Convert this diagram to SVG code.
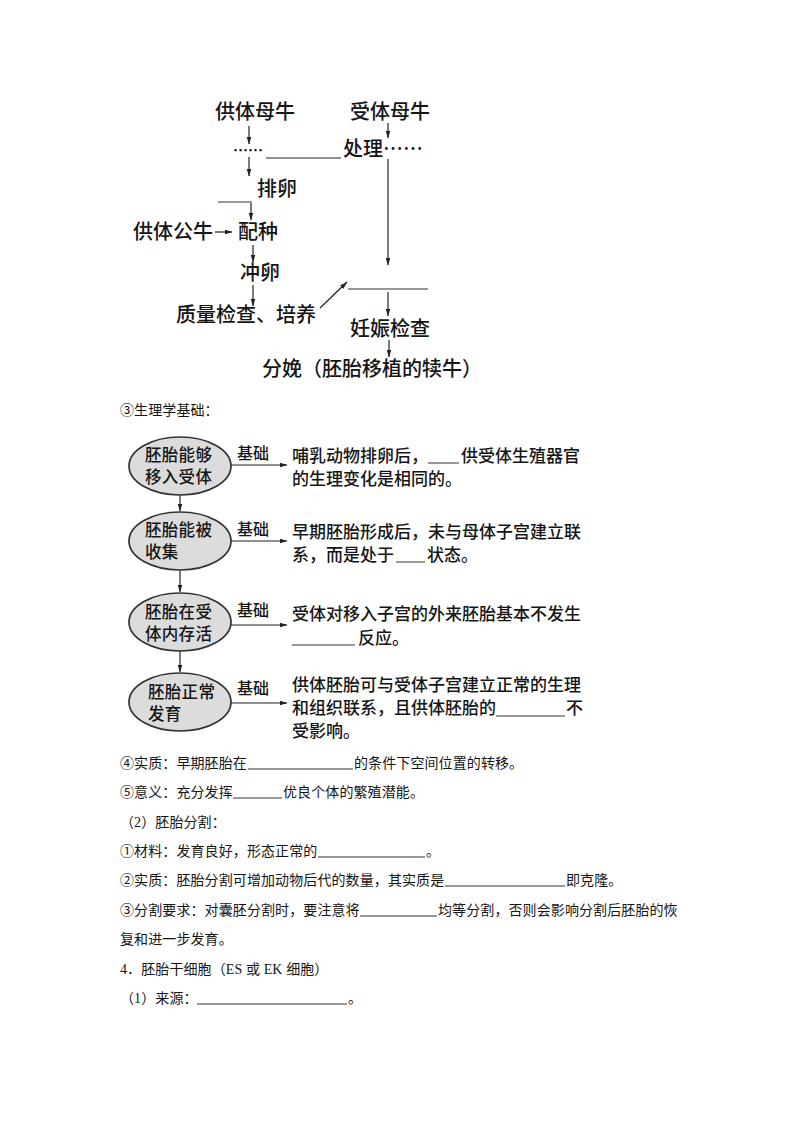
<svg xmlns="http://www.w3.org/2000/svg" width="800" height="1132" viewBox="0 0 800 1132">
<defs>
<style>
text { font-family: "Noto Sans CJK SC", "Noto Sans", sans-serif; fill: #151515; }
.t20 { font-size: 20px; font-weight: 500; }
.n17 { font-size: 17px; font-weight: 500; }
.e16 { font-size: 16.5px; font-weight: 500; letter-spacing: 0.3px; }
.k16 { font-size: 16px; font-weight: 500; }
.b14 { font-size: 14px; letter-spacing: 0.1px; }
.lat { font-family: "Liberation Serif", serif; }
.ln { stroke: #222; stroke-width: 1.2; fill: none; }
.arr { marker-end: url(#ah); }
.blank { stroke: #333; stroke-width: 1; }
.node { fill: #dcdcdc; stroke: #333; stroke-width: 1.7; }
</style>
<marker id="ah" markerWidth="8" markerHeight="6" refX="7.5" refY="3" orient="auto" markerUnits="userSpaceOnUse">
<path d="M0,0.6 L8,3 L0,5.4 z" fill="#222"/>
</marker>
</defs>
<rect width="800" height="1132" fill="#fff"/>

<!-- Top flowchart -->
<g id="connectors-top">
<line class="ln arr" x1="249" y1="126" x2="249" y2="144"/>
<line class="ln arr" x1="249" y1="157" x2="249" y2="176"/>
<line class="ln" x1="266" y1="158" x2="341" y2="158"/>
<line class="ln arr" x1="388" y1="123" x2="388" y2="138"/>
<line class="ln arr" x1="388" y1="159" x2="388" y2="265"/>
<line class="blank" x1="218" y1="202" x2="252" y2="202"/>
<line class="ln arr" x1="251" y1="203" x2="251" y2="220"/>
<line class="ln arr" x1="215" y1="232" x2="232" y2="232"/>
<line class="ln arr" x1="253" y1="245" x2="253" y2="262"/>
<line class="ln arr" x1="253" y1="285" x2="253" y2="306"/>
<line class="ln arr" x1="320" y1="308" x2="347" y2="282"/>
<line class="blank" x1="348" y1="289" x2="428" y2="289"/>
<line class="ln arr" x1="388" y1="292" x2="388" y2="316"/>
<line class="ln arr" x1="389" y1="340" x2="389" y2="357"/>
</g>
<g id="n-donor-cow"><text class="t20" x="215" y="118.5">供体母牛</text></g>
<g id="n-recipient-cow"><text class="t20" x="350" y="118.5">受体母牛</text></g>
<g id="n-donor-dots"><text x="248" y="156" font-size="15" font-weight="700" text-anchor="middle">……</text></g>
<g id="n-treat"><text class="t20" x="343" y="155.5">处理……</text></g>
<g id="n-ovulate"><text class="t20" x="257" y="195.5">排卵</text></g>
<g id="n-bull"><text class="t20" x="133" y="238.5">供体公牛</text></g>
<g id="n-mating"><text class="t20" x="238" y="238.5">配种</text></g>
<g id="n-flush"><text class="t20" x="240" y="279.5">冲卵</text></g>
<g id="n-check"><text class="t20" x="176" y="321.5">质量检查、培养</text></g>
<g id="n-preg"><text class="t20" x="350" y="335.5">妊娠检查</text></g>
<g id="n-birth"><text class="t20" x="262" y="375.5">分娩（胚胎移植的犊牛）</text></g>

<!-- Section 3 heading -->
<text class="b14" x="120" y="415">③生理学基础：</text>

<!-- Ellipse flow -->
<g id="connectors-mid">
<line class="ln arr" x1="180" y1="495" x2="180" y2="511"/>
<line class="ln arr" x1="180" y1="570" x2="180" y2="592"/>
<line class="ln arr" x1="180" y1="651" x2="180" y2="672"/>
<line class="ln arr" x1="231" y1="465" x2="287" y2="465"/>
<line class="ln arr" x1="231" y1="541" x2="287" y2="541"/>
<line class="ln arr" x1="231" y1="625" x2="287" y2="625"/>
<line class="ln arr" x1="231" y1="703" x2="287" y2="703"/>
</g>
<g id="e1">
<ellipse class="node" cx="180" cy="466" rx="51" ry="29"/>
<text class="e16" x="145" y="461">胚胎能够<tspan x="145" dy="22">移入受体</tspan></text>
</g>
<g id="e2">
<ellipse class="node" cx="180" cy="541" rx="51" ry="29"/>
<text class="e16" x="145" y="536">胚胎能被<tspan x="145" dy="22">收集</tspan></text>
</g>
<g id="e3">
<ellipse class="node" cx="180" cy="622" rx="51" ry="29"/>
<text class="e16" x="145" y="618">胚胎在受<tspan x="145" dy="22">体内存活</tspan></text>
</g>
<g id="e4">
<ellipse class="node" cx="180" cy="702" rx="51" ry="29"/>
<text class="e16" x="148" y="698">胚胎正常<tspan x="148" dy="22">发育</tspan></text>
</g>
<g id="labels-basis">
<text class="k16" x="237" y="459">基础</text>
<text class="k16" x="237" y="535">基础</text>
<text class="k16" x="237" y="616">基础</text>
<text class="k16" x="237" y="694">基础</text>
</g>
<g id="r1">
<text class="n17" x="292" y="462">哺乳动物排卵后，</text>
<line class="blank" x1="428" y1="463" x2="459" y2="463"/>
<text class="n17" x="461" y="462">供受体生殖器官</text>
<text class="n17" x="292" y="485">的生理变化是相同的。</text>
</g>
<g id="r2">
<text class="n17" x="292" y="538">早期胚胎形成后，未与母体子宫建立联</text>
<text class="n17" x="292" y="561">系，而是处于</text>
<line class="blank" x1="396" y1="562" x2="425" y2="562"/>
<text class="n17" x="427" y="561">状态。</text>
</g>
<g id="r3">
<text class="n17" x="292" y="620">受体对移入子宫的外来胚胎基本不发生</text>
<line class="blank" x1="292" y1="645" x2="355" y2="645"/>
<text class="n17" x="358" y="644">反应。</text>
</g>
<g id="r4">
<text class="n17" x="292" y="691">供体胚胎可与受体子宫建立正常的生理</text>
<text class="n17" x="292" y="714">和组织联系，且供体胚胎的</text>
<line class="blank" x1="496" y1="716" x2="565" y2="716"/>
<text class="n17" x="566" y="714">不</text>
<text class="n17" x="292" y="737">受影响。</text>
</g>

<!-- Body text -->
<g id="body">
<text class="b14" x="120" y="768">④实质：早期胚胎在</text>
<line class="blank" x1="248" y1="769" x2="353" y2="769"/>
<text class="b14" x="354" y="768">的条件下空间位置的转移。</text>

<text class="b14" x="120" y="797">⑤意义：充分发挥</text>
<line class="blank" x1="233" y1="798" x2="282" y2="798"/>
<text class="b14" x="283" y="797">优良个体的繁殖潜能。</text>

<text class="b14" x="120" y="827">（<tspan class="lat">2</tspan>）胚胎分割：</text>

<text class="b14" x="120" y="856">①材料：发育良好，形态正常的</text>
<line class="blank" x1="318" y1="857" x2="425" y2="857"/>
<text class="b14" x="426" y="856">。</text>

<text class="b14" x="120" y="885">②实质：胚胎分割可增加动物后代的数量，其实质是</text>
<line class="blank" x1="445" y1="886" x2="565" y2="886"/>
<text class="b14" x="566" y="885">即克隆。</text>

<text class="b14" x="120" y="915">③分割要求：对囊胚分割时，要注意将</text>
<line class="blank" x1="360" y1="916" x2="437" y2="916"/>
<text class="b14" x="438" y="915">均等分割，否则会影响分割后胚胎的恢</text>

<text class="b14" x="120" y="944">复和进一步发育。</text>

<text class="b14" x="120" y="974"><tspan class="lat">4</tspan>．胚胎干细胞（<tspan class="lat">ES </tspan>或<tspan class="lat"> EK </tspan>细胞）</text>

<text class="b14" x="120" y="1003">（<tspan class="lat">1</tspan>）来源：</text>
<line class="blank" x1="197" y1="1004" x2="347" y2="1004"/>
<text class="b14" x="348" y="1003">。</text>
</g>
</svg>
